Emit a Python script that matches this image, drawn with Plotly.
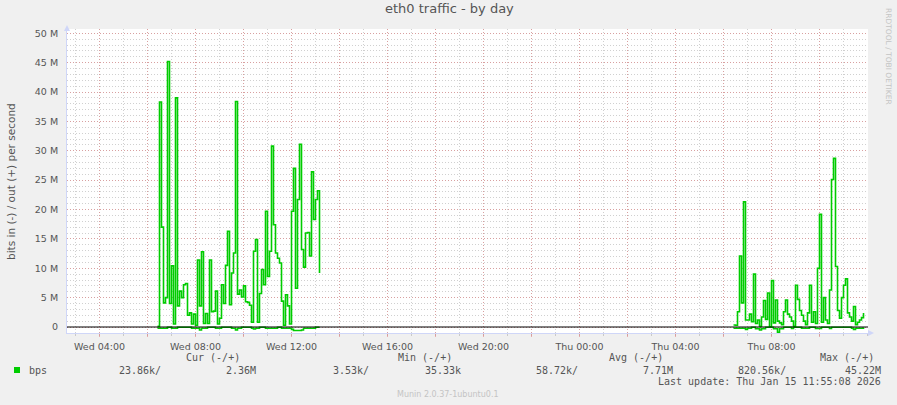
"""Munin style eth0 traffic chart (by day) rebuilt with Plotly."""
import pandas as pd
import plotly.graph_objects as go

# --- data (Mbit/s, 5 minute samples) ---------------------------------------
block_starts = ["2026-01-14 06:25", "2026-01-15 06:25"]

out_block1 = [
    0.1, 38.3, 17.0, 4.1, 5.0, 45.2, 4.0, 10.4, 0.5, 39.0, 3.6, 6.1, 5.0, 7.2,
    7.4, 2.0, 2.4, 0.5, 2.2, 0.3, 11.4, 3.6, 12.8, 0.6, 2.3, 0.6, 11.4, 2.6,
    2.7, 6.1, 0.5, 1.5, 7.2, 4.0, 10.5, 16.3, 3.8, 9.2, 12.6, 38.4, 5.6, 6.3,
    5.1, 7.0, 4.3, 4.2, 3.7, 0.8, 12.9, 14.9, 0.8, 5.7, 9.8, 7.2, 19.7, 8.6,
    12.9, 30.8, 17.4, 12.6, 11.7, 10.9, 4.4, 0.3, 5.5, 3.6, 0.5, 19.7, 27.0,
    6.6, 21.7, 31.1, 13.2, 10.2, 16.0, 16.1, 12.1, 26.4, 18.3, 21.7, 23.2, 9.2,
]
in_block1 = [
    0.2, 0.2, 0.2, 0.2, 0.2, 0.05, 0.05, 0.2, 0.2, 0.2, 0.05, 0.05, 0.05, 0.05,
    0.05, 0.05, 0.05, 0.2, 0.2, 0.2, 0.2, 0.5, 0.2, 0.2, 0.2, 0.05, 0.05, 0.05,
    0.05, 0.2, 0.2, 0.2, 0.05, 0.05, 0.05, 0.05, 0.05, 0.2, 0.2, 0.5, 0.2, 0.2,
    0.05, 0.05, 0.05, 0.05, 0.05, 0.2, 0.35, 0.2, 0.2, 0.05, 0.05, 0.05, 0.2,
    0.2, 0.2, 0.2, 0.2, 0.2, 0.05, 0.05, 0.2, 0.2, 0.2, 0.2, 0.2, 0.4, 0.6,
    0.6, 0.6, 0.6, 0.5, 0.2, 0.2, 0.2, 0.2, 0.2, 0.2, 0.05, 0.05, 0.05,
]
out_block2 = [
    0.34, 0.3, 2.6, 12.1, 4.1, 21.3, 1.2, 1.2, 2.2, 0.9, 9.0, 0.6, 1.2, 0.1,
    1.7, 4.5, 1.3, 5.8, 0.05, 7.9, 0.7, 4.6, 1.0, 0.7, 0.4, 2.6, 4.6, 2.2, 1.7,
    1.0, 0.1, 7.1, 4.7, 2.8, 2.0, 1.0, 0.4, 2.4, 7.1, 0.8, 2.6, 0.6, 10.0, 19.2,
    0.8, 5.0, 1.2, 0.6, 6.3, 25.1, 28.7, 10.3, 2.8, 1.5, 5.0, 7.1, 8.2, 2.4,
    1.7, 1.0, 3.5, 0.4, 0.8, 1.2, 1.6, 2.4,
]
in_block2 = [
    0.2, 0.2, 0.2, 0.2, 0.2, 0.2, 0.4, 0.2, 0.2, 0.05, 0.05, 0.3, 0.3, 0.5,
    0.3, 0.3, 0.05, 0.05, 0.05, 0.05, 0.3, 0.3, 0.9, 0.3, 0.3, 0.05, 0.05, 0.05,
    0.05, 0.25, 0.05, 0.05, 0.05, 0.05, 0.2, 0.2, 0.2, 0.2, 0.05, 0.05, 0.05,
    0.25, 0.25, 0.25, 0.05, 0.05, 0.05, 0.05, 0.25, 0.05, 0.05, 0.05, 0.05,
    0.05, 0.05, 0.05, 0.05, 0.05, 0.05, 0.2, 0.4, 0.2, 0.2, 0.2, 0.2, 0.05,
]

y_ticks = [0, 5, 10, 15, 20, 25, 30, 35, 40, 45, 50]
y_labels = ["0", "5 M", "10 M", "15 M", "20 M", "25 M", "30 M", "35 M", "40 M", "45 M", "50 M"]

legend_header = ["Cur (-/+)", "Min (-/+)", "Avg (-/+)", "Max (-/+)"]
legend_values = ["23.86k/", "2.36M", "3.53k/", "35.33k", "58.72k/", "7.71M", "820.56k/", "45.22M"]

# --- look -------------------------------------------------------------------
W, H = 897, 405
PLOT_L, PLOT_R, PLOT_T, PLOT_B = 67, 868, 29, 333
GREEN = "#00cc00"
FONT = "#555555"
AXIS = "#cfd6f8"
MGRID = "rgba(222,120,120,0.55)"
GRID = "rgba(170,170,170,0.55)"
SANS = "DejaVu Sans"
MONO = "DejaVu Sans Mono"


def px(x):
    return (x - PLOT_L) / (PLOT_R - PLOT_L)


def py(y):
    return (PLOT_B - y) / (PLOT_B - PLOT_T)


def text(s, x, y, size=10, family=MONO, color=FONT, xanchor="right", angle=0):
    return dict(
        text=s, x=px(x), y=py(y), xref="paper", yref="paper", showarrow=False,
        xanchor=xanchor, yanchor="middle", textangle=angle,
        font=dict(family=family, size=size, color=color),
    )


fig = go.Figure()
for start, outs, ins in [(block_starts[0], out_block1, in_block1),
                         (block_starts[1], out_block2, in_block2)]:
    times = pd.date_range(start, periods=len(outs), freq="5min")
    fig.add_trace(go.Scatter(x=times, y=[-v for v in ins], mode="lines",
                             line=dict(color=GREEN, width=1.6, shape="hv"), hoverinfo="skip"))
    fig.add_trace(go.Scatter(x=times, y=outs, mode="lines",
                             line=dict(color=GREEN, width=1.6, shape="hv"), hoverinfo="skip"))

x_ticks = pd.date_range("2026-01-14 04:00", "2026-01-15 10:00", freq="2h")
x_labels = [t.strftime("%a %H:%M") if t.hour % 4 == 0 else "" for t in x_ticks]

fig.update_xaxes(
    range=["2026-01-14 02:38:45", "2026-01-15 12:01:15"],
    tickmode="array", tickvals=x_ticks, ticktext=x_labels,
    showgrid=True, gridcolor=MGRID, griddash="1px,2px", gridwidth=1,
    ticks="outside", ticklen=3, tickcolor=MGRID,
    minor=dict(dtick=3600000, tick0="2026-01-14 00:00", showgrid=True,
               gridcolor=GRID, griddash="1px,2px", ticks="outside", ticklen=2, tickcolor=GRID),
    showline=True, linecolor=AXIS, linewidth=1, zeroline=False,
    tickfont=dict(family=SANS, size=9.5, color=FONT), ticklabelstandoff=2,
)
fig.update_yaxes(
    range=[-1.02, 50.73],
    tickmode="array", tickvals=y_ticks, ticktext=y_labels,
    showgrid=True, gridcolor=MGRID, griddash="1px,2px", gridwidth=1,
    minor=dict(dtick=1, tick0=0, showgrid=True, gridcolor=GRID, griddash="1px,2px"),
    showline=True, linecolor=AXIS, linewidth=1, zeroline=False, ticks="",
    tickfont=dict(family=SANS, size=9.5, color=FONT), ticklabelstandoff=6,
)

shapes = [
    # black zero rule drawn over the data, like rrdtool
    dict(type="line", xref="paper", yref="y", x0=0, x1=1, y0=0, y1=0,
         line=dict(color="#000000", width=1), layer="above"),
    # axis arrows
    dict(type="path", xref="paper", yref="paper", fillcolor=AXIS, line=dict(width=0),
         path=f"M {px(64)} {py(31)} L {px(67)} {py(25)} L {px(70)} {py(31)} Z"),
    dict(type="path", xref="paper", yref="paper", fillcolor=AXIS, line=dict(width=0),
         path=f"M {px(868)} {py(330)} L {px(874)} {py(333)} L {px(868)} {py(336)} Z"),
    # legend swatch
    dict(type="rect", xref="paper", yref="paper", fillcolor=GREEN, line=dict(width=0),
         x0=px(14), x1=px(20), y0=py(373), y1=py(367)),
]

header_right = [242, 454, 665, 876]
value_right = [163, 258, 371, 463, 580, 675, 788, 883]
annotations = [
    text("eth0 traffic - by day", 449, 9, size=13, family=SANS, xanchor="center"),
    text("bits in (-) / out (+) per second", 11, 182, size=10.5, family=SANS,
         xanchor="center", angle=-90),
    text("RRDTOOL / TOBI OETIKER", 888, 56, size=7.5, family=SANS, color="#c4c4c4",
         xanchor="center", angle=90),
    text("bps", 27, 370, xanchor="left"),
    text("Last update: Thu Jan 15 11:55:08 2026", 883, 381),
    text("Munin 2.0.37-1ubuntu0.1", 448, 394, size=8, family=SANS, color="#c4c4c4",
         xanchor="center"),
]
annotations += [text(s, x, 357) for s, x in zip(legend_header, header_right)]
annotations += [text(s, x, 370) for s, x in zip(legend_values, value_right)]

fig.update_layout(
    width=W, height=H,
    margin=dict(l=PLOT_L, r=W - PLOT_R, t=PLOT_T, b=H - PLOT_B, autoexpand=False),
    paper_bgcolor="#f0f0f0", plot_bgcolor="#ffffff",
    showlegend=False, shapes=shapes, annotations=annotations,
    font=dict(family=SANS, color=FONT),
)

# the page body has a default margin; drop it so the figure fills the window
fig.write_html("out.html", config={"displayModeBar": False},
               post_script="document.body.style.margin='0';")
